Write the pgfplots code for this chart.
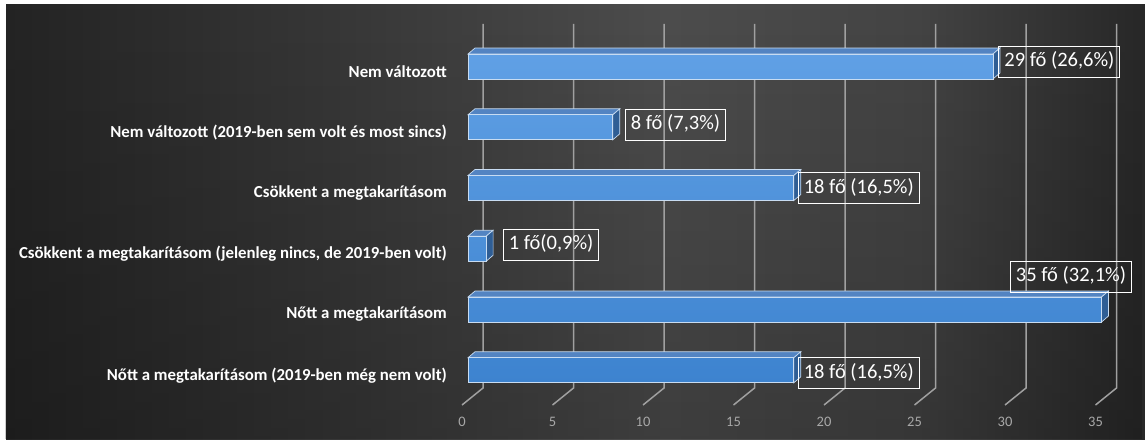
\documentclass[border=0pt]{standalone}
\usepackage{pgfplots}
\pgfplotsset{compat=1.18}
\usepackage{pgfplotstable}
\usepackage{fontspec}
\setmainfont{Carlito}
\usetikzlibrary{fadings}

% colours
\definecolor{bgA}{HTML}{242424}
\definecolor{bgB}{HTML}{383838}
\definecolor{bgC}{HTML}{4D4D4D}
\definecolor{bgD}{HTML}{444444}
\definecolor{bgE}{HTML}{282828}
\definecolor{gridc}{HTML}{A0A0A0}
\definecolor{tickgray}{HTML}{A8A8A8}
\definecolor{frontT}{HTML}{60A0E5}
\definecolor{frontB}{HTML}{3D83CF}
\definecolor{edgec}{HTML}{C8DCF2}
\definecolor{topc}{HTML}{5384C2}
\definecolor{endc}{HTML}{2F5E95}

% horizontal background gradient (path box maps onto 25bp..75bp)
\pgfdeclarehorizontalshading{chartbg}{100bp}{%
  color(0bp)=(bgA); color(25bp)=(bgA); color(40bp)=(bgB);
  color(54bp)=(bgC); color(65bp)=(bgD); color(75bp)=(bgE); color(100bp)=(bgE)}

\tikzfading[name=wallshadow, left color=transparent!100,
  middle color=transparent!0, right color=transparent!100]

% idx: row from the top, v: persons, dx/dy: label offset in pt
\pgfplotstableread{
idx v dx dy label
0 29 66.5 5 {29 fő (26,6\%)}
1 8 62.7 2.5 {8 fő (7,3\%)}
2 18 65 0 {18 fő (16,5\%)}
3 1 65 4 {1 fő(0,9\%)}
4 35 -30.5 33 {35 fő (32,1\%)}
5 18 65 -3 {18 fő (16,5\%)}
}\data

\begin{document}
\begin{tikzpicture}
% page and panel
\path[use as bounding box, fill=white] (0pt,0pt) rectangle (1145pt,439pt);
\shade[shading=chartbg] (6pt,0pt) rectangle (1145pt,434pt);
\fill[black, opacity=0.2, path fading=north] (6pt,0pt) rectangle (1145pt,434pt);
% shadow of the side wall
\fill[black, opacity=0.9, path fading=wallshadow] (456pt,44pt) rectangle (477pt,406pt);

\begin{axis}[
  at={(468pt,415pt)}, anchor=north west,
  scale only axis, width=633.5pt, height=388.8pt,
  xmin=0, xmax=35, ymin=-5.7, ymax=0.7,
  clip=false,
  axis line style={draw=none}, major tick length=0pt,
  xtick={0,5,...,35}, xticklabels={0,5,10,15,20,25,30,35},
  ytick={-5,-4,...,0},
  yticklabels={
    {Nőtt a megtakarításom (2019-ben még nem volt)},
    {Nőtt a megtakarításom},
    {Csökkent a megtakarításom (jelenleg nincs, de 2019-ben volt)},
    {Csökkent a megtakarításom},
    {Nem változott (2019-ben sem volt és most sincs)},
    {Nem változott}},
  xticklabel style={font=\fontsize{14.5}{16}\selectfont, text=tickgray,
    inner sep=0pt, anchor=north, xshift=-6pt, yshift=-4.5pt},
  yticklabel style={font=\bfseries\fontsize{16.8}{19}\selectfont, text=white,
    inner sep=0pt, anchor=east, xshift=-21pt, yshift=-5pt},
]

% back-wall grid lines folding onto the floor
\pgfplotsinvokeforeach{0,5,...,35}{
  \draw[gridc, line width=1.5pt]
    ([xshift=15pt]axis cs:#1,0.7) -- ([xshift=15pt]axis cs:#1,-5.292)
    -- ([xshift=-6pt,yshift=-17pt]axis cs:#1,-5.292);
}

% top and end faces of the 3-D bars
\pgfplotsinvokeforeach{0,...,5}{
  \pgfplotstablegetelem{#1}{v}\of\data
  \pgfmathsetmacro\xv{\pgfplotsretval}
  \pgfmathsetmacro\xe{\pgfplotsretval+0.387}
  \pgfmathsetmacro\yf{-#1+0.2058}
  \pgfmathsetmacro\yb{-#1+0.3045}
  \pgfmathsetmacro\yl{-#1-0.2058}
  \pgfmathsetmacro\ylb{-#1-0.107}
  \addplot[fill=topc, draw=edgec, line width=0.7pt]
    coordinates {(0,\yf) (\xv,\yf) (\xe,\yb) (0.387,\yb)} -- cycle;
  \addplot[fill=endc, draw=edgec, line width=0.7pt]
    coordinates {(\xv,\yf) (\xe,\yb) (\xe,\ylb) (\xv,\yl)} -- cycle;
}

% front faces
\addplot[xbar, bar width=25pt, bar shift=0pt, draw=edgec, line width=0.8pt,
  top color=frontT, bottom color=frontB]
  table[x=v, y expr=-\thisrow{idx}]{\data};

% value labels, offset from the bar ends (18.1pt per unit in x, 60.75pt in y)
\addplot[only marks, mark=none,
  point meta=explicit symbolic,
  nodes near coords,
  every node near coord/.append style={anchor=center,
    draw=white, line width=1pt,
    text=white, font=\fontsize{20.5}{22}\selectfont,
    inner xsep=5.5pt, inner ysep=0pt, minimum height=31pt,
    text height=14.5pt, text depth=4.5pt}]
  table[x expr=\thisrow{v}+\thisrow{dx}/18.1,
        y expr=-\thisrow{idx}+\thisrow{dy}/60.75, meta=label]{\data};

\end{axis}
\end{tikzpicture}
\end{document}
